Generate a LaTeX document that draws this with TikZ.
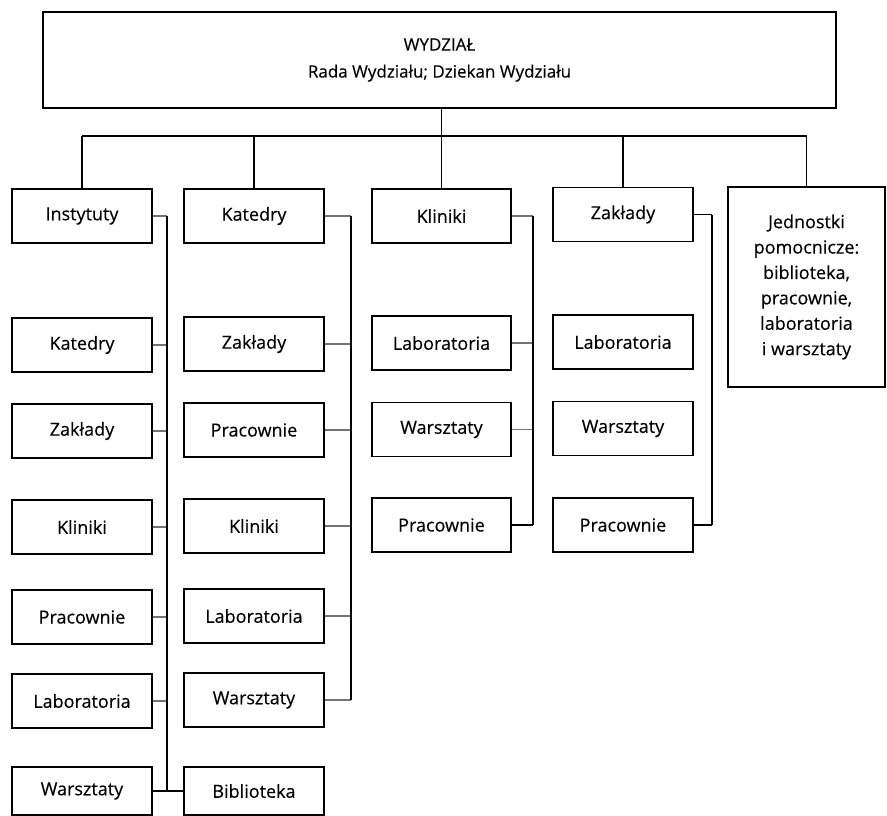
\documentclass[tikz,border=0pt]{standalone}
\usepackage{fontspec}
\setmainfont{Open Sans}[FakeBold=0.3]
\begin{document}
\begin{tikzpicture}[x=1pt,y=-1pt,
  unit/.style={draw,line width=1.3pt,rectangle,inner sep=0pt,
    minimum width=140pt,minimum height=54pt,
    font=\fontsize{18}{22}\selectfont},
  link/.style={line width=1.2pt},
  stub/.style={line width=1.2pt,black!55}]
\useasboundingbox (0,0) rectangle (887,816);

% faculty
\node[unit,minimum width=793pt,minimum height=96pt,align=center,
  font=\fontsize{17}{27}\selectfont] (wydz) at (439.5,60)
  {WYDZIAŁ\\Rada Wydziału; Dziekan Wydziału};

% first column: institutes
\node[unit] (a1) at (82,216) {Instytuty};
\node[unit] (a2) at (82,345) {Katedry};
\node[unit] (a3) at (82,431) {Zakłady};
\node[unit] (a4) at (82,527) {Kliniki};
\node[unit] (a5) at (82,617) {Pracownie};
\node[unit] (a6) at (82,701) {Laboratoria};
\node[unit,minimum height=48pt] (a7) at (82,791) {Warsztaty};

% second column: chairs
\node[unit] (b1) at (254,216) {Katedry};
\node[unit] (b2) at (254,344) {Zakłady};
\node[unit] (b3) at (254,430) {Pracownie};
\node[unit] (b4) at (254,526) {Kliniki};
\node[unit] (b5) at (254,616) {Laboratoria};
\node[unit] (b6) at (254,700) {Warsztaty};
\node[unit,minimum height=48pt] (b7) at (254,791) {Biblioteka};

% third column: clinics
\node[unit,minimum width=139pt] (c1) at (441.5,216) {Kliniki};
\node[unit,minimum width=139pt] (c2) at (441.5,343) {Laboratoria};
\node[unit,minimum width=139pt] (c3) at (441.5,429.5) {Warsztaty};
\node[unit,minimum width=139pt] (c4) at (441.5,525) {Pracownie};

% fourth column: departments
\node[unit] (d1) at (623,214.5) {Zakłady};
\node[unit] (d2) at (623,342) {Laboratoria};
\node[unit] (d3) at (623,428.5) {Warsztaty};
\node[unit] (d4) at (623,525) {Pracownie};

% auxiliary units
\node[unit,minimum width=157pt,minimum height=200pt,align=center,
  font=\fontsize{18}{25.4}\selectfont] (e1) at (806.5,287)
  {Jednostki\\pomocnicze:\\biblioteka,\\pracownie,\\laboratoria\\i warsztaty};

% rails
\coordinate (bar) at (0,136);
\coordinate (v1) at (167,0);
\coordinate (v2) at (351,0);
\coordinate (v3) at (533,0);
\coordinate (v4) at (712,0);

% faculty to the five branches
\draw[link] (wydz.south -| c1.north) -- (c1.north);
\draw[link] (a1.north |- bar) -- (e1.north |- bar);
\foreach \n in {a1,b1,d1,e1}
  \draw[link] (\n.north) -- (\n.north |- bar);

% first column rail
\foreach \n in {a1,a2,a3,a4,a5,a6}
  \draw[stub] (\n.east) -- (\n.east -| v1);
\draw[link] (a1.east -| v1) -- (a7.east -| v1);
\draw[link] (a7.east) -- (b7.west);

% second column rail
\foreach \n in {b1,b2,b3,b4,b5,b6}
  \draw[stub] (\n.east) -- (\n.east -| v2);
\draw[link] (b1.east -| v2) -- (b6.east -| v2);

% third column rail
\foreach \n in {c1,c2,c3}
  \draw[stub] (\n.east) -- (\n.east -| v3);
\draw[link] (c4.east) -- (c4.east -| v3);
\draw[link] (c1.east -| v3) -- (c4.east -| v3);

% fourth column rail
\draw[link] (d1.east) -- (d1.east -| v4);
\draw[link] (d4.east) -- (d4.east -| v4);
\draw[link] (d1.east -| v4) -- (d4.east -| v4);
\end{tikzpicture}
\end{document}
